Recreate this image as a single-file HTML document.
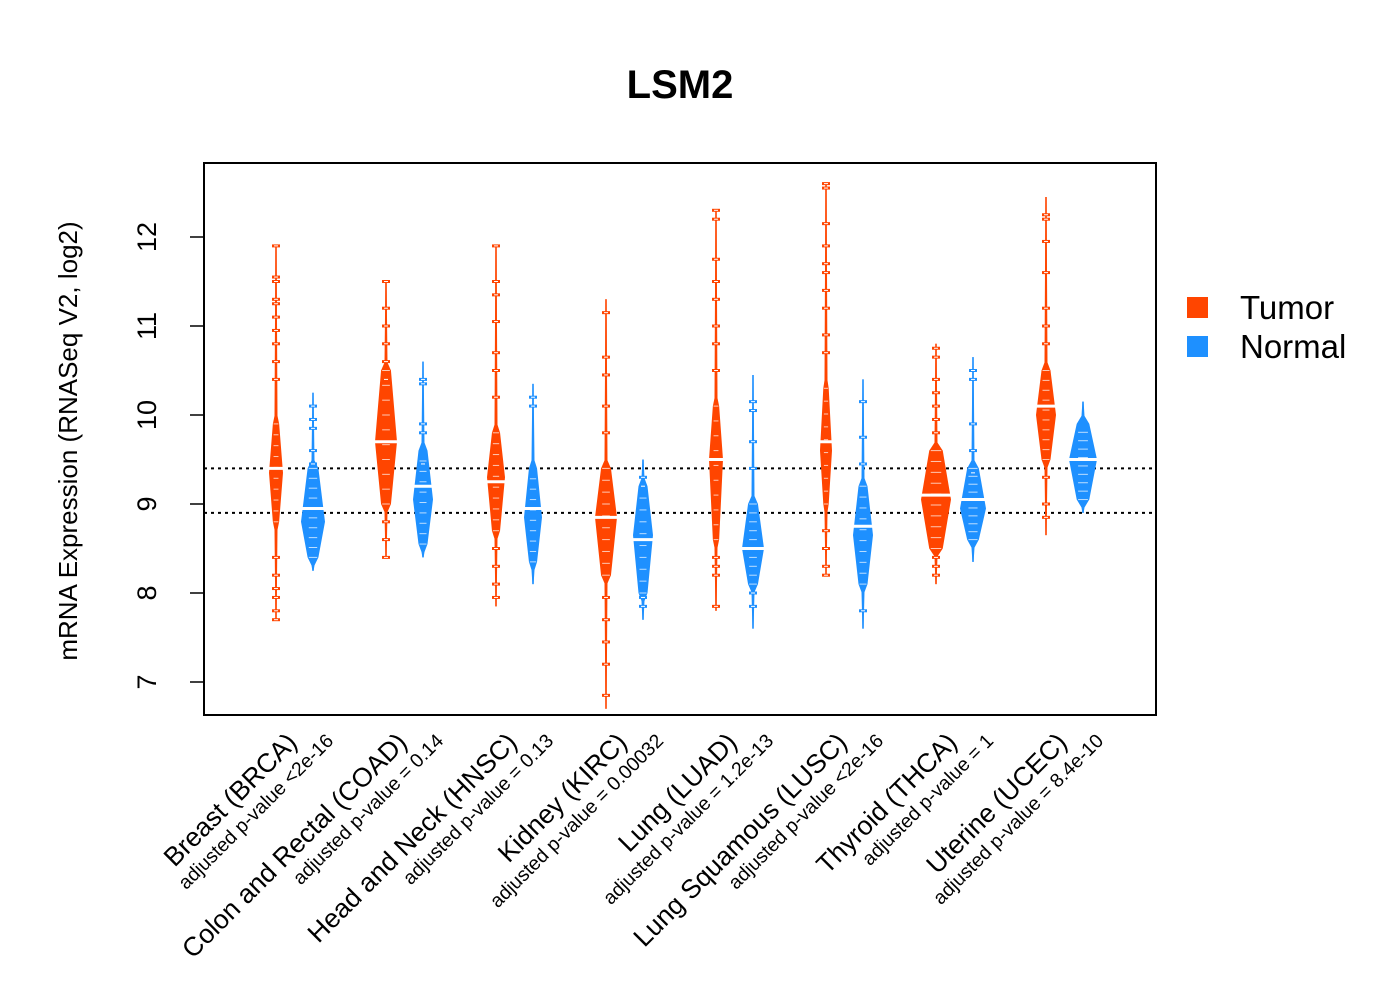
<!DOCTYPE html>
<html><head><meta charset="utf-8"><style>
body{margin:0;background:#fff;}
svg{display:block;font-family:"Liberation Sans",Arial,sans-serif;}
</style></head><body>
<svg id="chart" width="1400" height="1000" viewBox="0 0 1400 1000"></svg>
<script>
// ---- data ----
const categories = ["Breast (BRCA)","Colon and Rectal (COAD)","Head and Neck (HNSC)","Kidney (KIRC)","Lung (LUAD)","Lung Squamous (LUSC)","Thyroid (THCA)","Uterine (UCEC)"];
const pvalues = ["adjusted p-value <2e-16","adjusted p-value = 0.14","adjusted p-value = 0.13","adjusted p-value = 0.00032","adjusted p-value = 1.2e-13","adjusted p-value <2e-16","adjusted p-value = 1","adjusted p-value = 8.4e-10"];
// tumor series: [max, bodyTop, peak, bodyBottom, min]
const tumorMax = [11.9,11.5,11.9,11.3,12.3,12.6,10.8,12.45];
const tumorBodyTop = [9.9,10.5,9.8,9.4,10.1,10.3,9.6,10.5];
const tumorPeak = [9.35,9.7,9.3,8.85,9.5,9.6,9.05,10.0];
const tumorBodyBottom = [8.8,9.0,8.7,8.2,8.6,9.0,8.5,9.5];
const tumorMin = [7.7,8.4,7.85,6.7,7.8,8.2,8.1,8.65];
const tumorWidth = [7,11,9,11,7,6,15,10];
const tumorMedian = [9.4,9.7,9.25,8.85,9.5,9.7,9.1,10.1];
// normal series
const normalMax = [10.25,10.6,10.35,9.5,10.45,10.4,10.65,10.15];
const normalBodyTop = [9.4,9.6,9.4,9.2,9.0,9.2,9.4,9.9];
const normalPeak = [8.8,9.05,8.85,8.65,8.5,8.65,8.95,9.5];
const normalBodyBottom = [8.4,8.55,8.35,8.0,8.1,8.1,8.6,9.05];
const normalMin = [8.25,8.4,8.1,7.7,7.6,7.6,8.35,8.9];
const normalWidth = [12,10,9,10,11,10,13,14];
const normalMedian = [8.95,9.2,8.95,8.6,8.5,8.75,9.05,9.5];
// outlier beads
const tumorOutliers = [[11.9,11.55,11.5,11.3,11.25,11.1,10.95,10.8,10.6,10.4,8.4,8.2,8.05,7.95,7.8,7.7],[11.5,11.2,11.0,10.8,10.6,10.4,8.8,8.6,8.4],[11.9,11.5,11.35,11.05,10.7,10.5,10.2,8.5,8.3,8.1,7.95],[11.15,10.65,10.45,10.1,9.8,7.95,7.7,7.45,7.2,6.85],[12.3,12.2,11.75,11.5,11.3,11.0,10.8,10.5,8.4,8.3,8.2,7.85],[12.6,12.55,12.15,11.9,11.7,11.6,11.4,11.2,10.9,10.7,8.7,8.5,8.3,8.2],[10.75,10.65,10.4,10.25,10.1,9.95,9.8,8.4,8.3,8.2],[12.25,12.2,11.95,11.6,11.2,11.0,10.8,9.3,9.0,8.85]];
const normalOutliers = [[10.1,9.95,9.85,9.6,9.45],[10.4,10.35,9.9,9.8,9.45],[10.2,10.1],[9.3,9.2,7.95,7.85],[10.15,10.05,9.7,9.4,8.0,7.85],[10.15,9.75,9.45,7.8],[10.5,10.4,9.9,9.6,9.35],[]];
const yTicks = [7,8,9,10,11,12];
const refLines = [9.4,8.9];
// ---- layout ----
const svg = document.getElementById('chart');
const NS = 'http://www.w3.org/2000/svg';
const plot = {x0:204,x1:1156,y0:163,y1:715};
function yScale(v){ return 682 - (v-7)*89; }
function xTumor(i){ return 276 + i*110; }
function xNormal(i){ return 313 + i*110; }
function el(tag, attrs, parent){ const e=document.createElementNS(NS,tag); for(const k in attrs) e.setAttribute(k,attrs[k]); (parent||svg).appendChild(e); return e; }

const title = el('text',{x:680,y:98,'text-anchor':'middle','font-size':40,'font-weight':'bold'});
title.textContent='LSM2';



refLines.forEach((v,k)=>{
  const l = el('line',{x1:plot.x0,x2:plot.x1,y1:yScale(v),y2:yScale(v),stroke:'#000','stroke-width':2,'stroke-dasharray':'3,4'});
  
  
});

function bean(cx, i, color, mx, bt, pk, bb, mn, w, med, outs, kind){
  const g = el('g',{});
  
  
  el('line',{x1:cx,x2:cx,y1:yScale(mx),y2:yScale(mn),stroke:color,'stroke-width':1.5},g);
  const pts = [[yScale(mx),0.6],[yScale(bt)-8,1.5],[yScale(bt),w*0.45],[yScale(pk),w],[yScale(bb),w*0.45],[yScale(bb)+8,1.5],[yScale(mn),0.6]];
  let d='M'+cx+','+pts[0][0];
  pts.forEach(p=>{ d+=' L'+(cx+p[1])+','+p[0]; });
  for(let k=pts.length-1;k>=0;k--){ d+=' L'+(cx-pts[k][1])+','+pts[k][0]; }
  el('path',{d:d+'Z',fill:color},g);
  for(let v=bb; v<=bt; v+= (bt-bb)/9){
    el('line',{x1:cx-w*0.35,x2:cx+w*0.35,y1:yScale(v),y2:yScale(v),stroke:'#fff','stroke-width':1,opacity:0.7},g);
  }
  outs.forEach(v=>{
    el('line',{x1:cx-4,x2:cx+4,y1:yScale(v),y2:yScale(v),stroke:color,'stroke-width':3},g);
    el('line',{x1:cx-2,x2:cx+2,y1:yScale(v),y2:yScale(v),stroke:'#fff','stroke-width':1},g);
  });
  el('line',{x1:cx-w-4,x2:cx+w+4,y1:yScale(med),y2:yScale(med),stroke:'#fff','stroke-width':3},g);
}
categories.forEach((c,i)=>{
  bean(xTumor(i),i,'#ff4500',tumorMax[i],tumorBodyTop[i],tumorPeak[i],tumorBodyBottom[i],tumorMin[i],tumorWidth[i],tumorMedian[i],tumorOutliers[i],'tumor');
  bean(xNormal(i),i,'#1e90ff',normalMax[i],normalBodyTop[i],normalPeak[i],normalBodyBottom[i],normalMin[i],normalWidth[i],normalMedian[i],normalOutliers[i],'normal');
  const cx = (xTumor(i)+xNormal(i))/2;
  const t = el('text',{x:cx+4,y:744,'text-anchor':'end','font-size':26.5,transform:`rotate(-45 ${cx+4} 744)`});
  t.textContent=c;
  
  
  const p = el('text',{x:cx+40,y:742,'text-anchor':'end','font-size':19.5,transform:`rotate(-45 ${cx+40} 742)`});
  p.textContent=pvalues[i];
  
  
});

const frame = el('rect',{x:plot.x0,y:plot.y0,width:plot.x1-plot.x0,height:plot.y1-plot.y0,fill:'none',stroke:'#000','stroke-width':2});



yTicks.forEach(v=>{
  const y=yScale(v);
  const tk = el('line',{x1:190,x2:plot.x0,y1:y,y2:y,stroke:'#000','stroke-width':1.5});
  
  
  const tl = el('text',{x:156,y:y,'text-anchor':'middle','font-size':27,transform:`rotate(-90 156 ${y})`});
  tl.textContent=v;
  
  
});
const yt = el('text',{x:77,y:441,'text-anchor':'middle','font-size':26,transform:'rotate(-90 77 441)'});
yt.textContent='mRNA Expression (RNASeq V2, log2)';



[['Tumor','#ff4500',307],['Normal','#1e90ff',346]].forEach(([n,c,y])=>{
  const g = el('g',{});
  
  
  el('rect',{x:1187,y:y-10,width:21,height:21,fill:c},g);
  const t = el('text',{x:1240,y:y+12,'font-size':33},g);
  t.textContent=n;
});
</script>
</body></html>
